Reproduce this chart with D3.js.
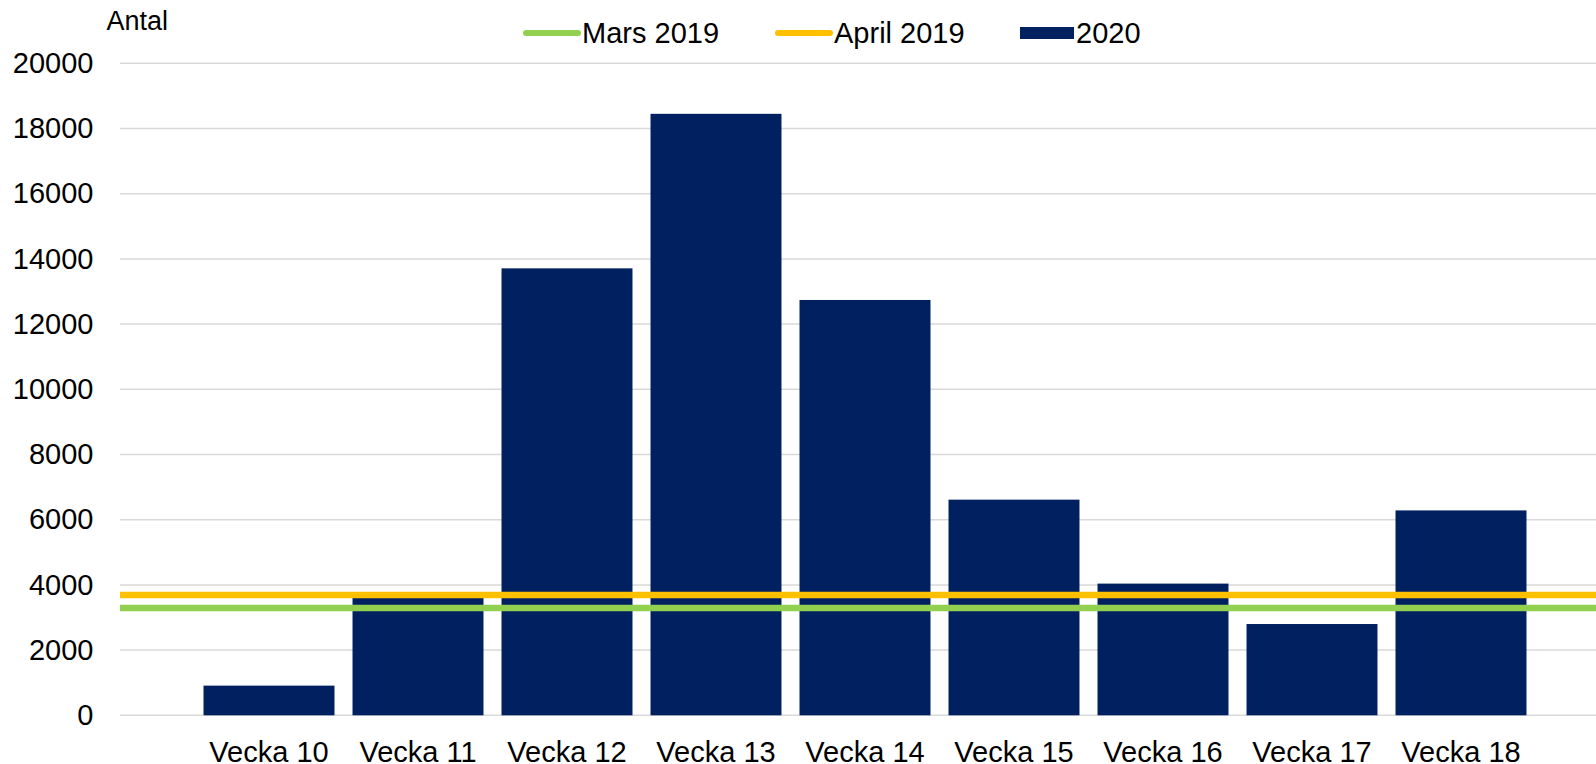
<!DOCTYPE html>
<html><head><meta charset="utf-8">
<script src="https://cdn.jsdelivr.net/npm/d3@7"></script>
<style>body{margin:0;background:#fff}svg{display:block}text{font-family:"Liberation Sans",Arial,sans-serif;fill:#000}</style>
</head><body>
<script>
const categories = ["Vecka 10","Vecka 11","Vecka 12","Vecka 13","Vecka 14","Vecka 15","Vecka 16","Vecka 17","Vecka 18"];
const values2020 = [910, 3770, 13710, 18450, 12740, 6615, 4040, 2800, 6285];
const mars2019 = 3290;
const april2019 = 3690;
const yTicks = [0,2000,4000,6000,8000,10000,12000,14000,16000,18000,20000];
const legendLabels = ["Mars 2019","April 2019","2020"];

const W = 1596, H = 764;
const plotLeft = 120, plotRight = 1596;
const svg = d3.select("body").append("svg").attr("width", W).attr("height", H);

const x = d3.scaleBand().domain(categories).range([194.5, 1535.5]).paddingInner(0.121).paddingOuter(0.0605);
const y = d3.scaleLinear().domain([0, 20000]).range([715.3, 63.3]);

// gridlines
svg.append("g").selectAll("line").data(yTicks).join("line")
  .attr("x1", plotLeft).attr("x2", plotRight)
  .attr("y1", d => y(d)).attr("y2", d => y(d))
  .attr("stroke", "#d9d9d9").attr("stroke-width", 1.5);

// y axis labels
const yAxis = d3.axisLeft(y).tickValues(yTicks).tickSize(0).tickPadding(0).tickFormat(d3.format("d"));
const ya = svg.append("g").attr("transform", "translate(93.5,0)").call(yAxis);
ya.select(".domain").remove();
ya.selectAll("text").attr("font-size", 29).attr("font-family", '"Liberation Sans",Arial,sans-serif').attr("fill", "#000");

// bars
svg.append("g").selectAll("rect").data(values2020).join("rect")
  .attr("x", (d, i) => x(categories[i]))
  .attr("width", x.bandwidth())
  .attr("y", d => y(d))
  .attr("height", d => y(0) - y(d))
  .attr("fill", "#002060");

// reference lines
const refs = [{v: april2019, c: "#ffc000"}, {v: mars2019, c: "#92d050"}];
svg.append("g").selectAll("line").data(refs).join("line")
  .attr("x1", plotLeft).attr("x2", plotRight)
  .attr("y1", d => y(d.v)).attr("y2", d => y(d.v))
  .attr("stroke", d => d.c).attr("stroke-width", 6.5);

// x axis labels
const xAxis = d3.axisBottom(x).tickSize(0).tickPadding(0);
const xa = svg.append("g").attr("transform", "translate(0,741)").call(xAxis);
xa.select(".domain").remove();
xa.selectAll("text").attr("font-size", 29).attr("font-family", '"Liberation Sans",Arial,sans-serif').attr("fill", "#000").attr("dy", "0.71em");

// Antal
svg.append("text").attr("x", 106.5).attr("y", 30).attr("font-size", 27).text("Antal");

// legend
const lg = svg.append("g");
const ly = 33;
lg.append("line").attr("x1", 526).attr("x2", 578).attr("y1", ly).attr("y2", ly).attr("stroke", "#92d050").attr("stroke-width", 6).attr("stroke-linecap", "round");
lg.append("text").attr("x", 582).attr("y", ly).attr("dy", "0.35em").attr("font-size", 29).text(legendLabels[0]);
lg.append("line").attr("x1", 778).attr("x2", 830).attr("y1", ly).attr("y2", ly).attr("stroke", "#ffc000").attr("stroke-width", 6).attr("stroke-linecap", "round");
lg.append("text").attr("x", 834).attr("y", ly).attr("dy", "0.35em").attr("font-size", 29).text(legendLabels[1]);
lg.append("rect").attr("x", 1020).attr("y", ly - 6).attr("width", 54).attr("height", 12).attr("fill", "#002060");
lg.append("text").attr("x", 1076).attr("y", ly).attr("dy", "0.35em").attr("font-size", 29).text(legendLabels[2]);
</script>
</body></html>
